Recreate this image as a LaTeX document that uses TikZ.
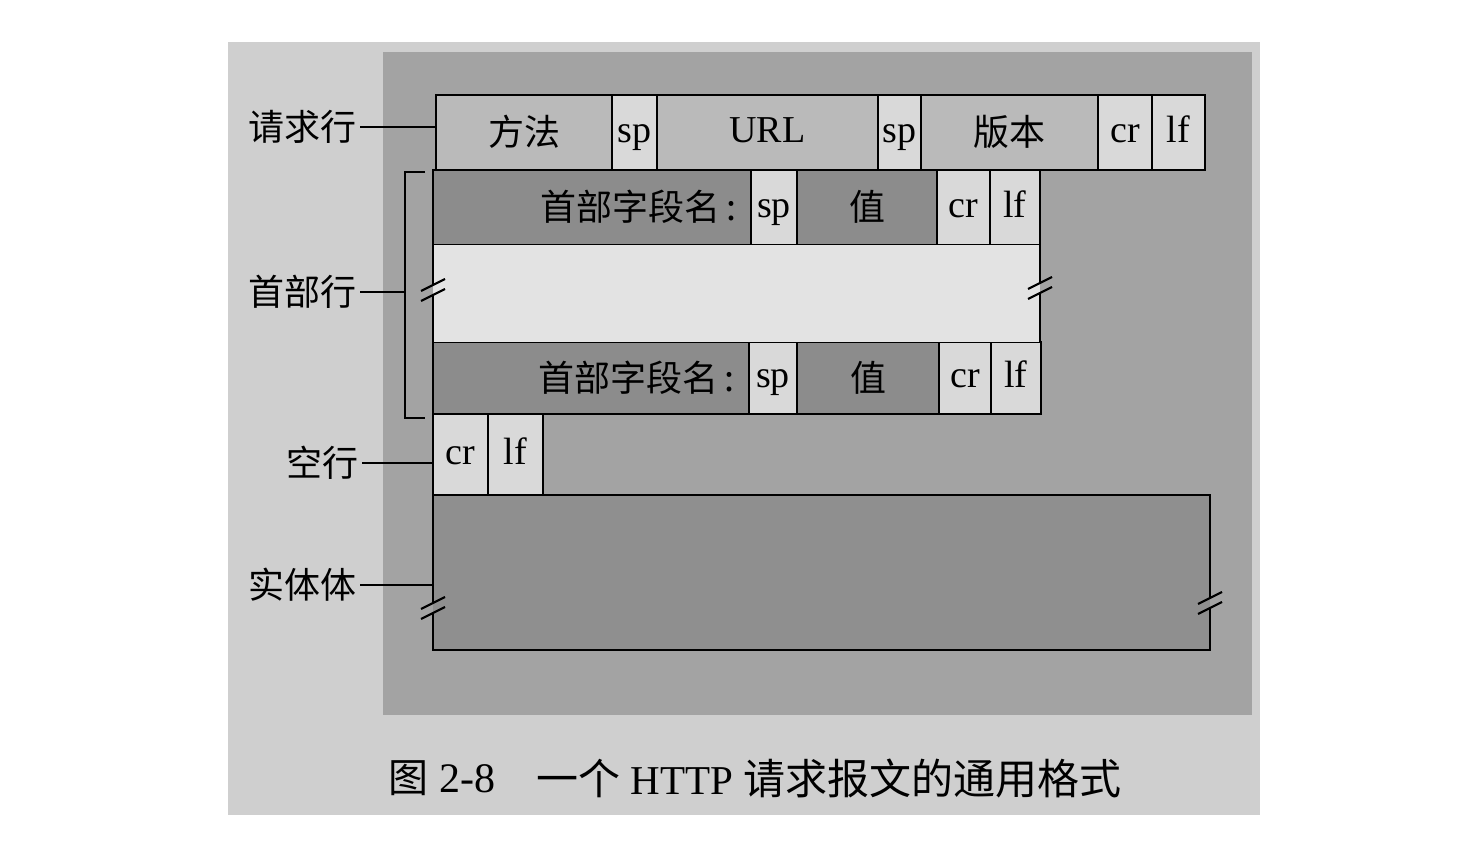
\documentclass[tikz,border=0pt]{standalone}
\usepackage{fontspec}
\setmainfont{Liberation Serif}
\newfontfamily\cjk{Noto Sans CJK SC}
\usetikzlibrary{positioning}

\definecolor{pagegray}{gray}{0.81}
\definecolor{panelgray}{gray}{0.64}
\definecolor{reqgray}{gray}{0.73}
\definecolor{palegray}{gray}{0.85}
\definecolor{hdrgray}{gray}{0.55}
\definecolor{bandgray}{gray}{0.89}
\definecolor{bodygray}{gray}{0.56}

\begin{document}
\begin{tikzpicture}[x=1pt, y=-1pt,
  cell/.style={draw, line width=2.8pt, inner sep=0pt, outer sep=0pt, minimum height=75pt,
    text height=27pt, text depth=8pt, font=\fontsize{38}{40}\selectfont},
  cn/.style={font=\cjk\fontsize{36}{40}\selectfont, text height=30pt, text depth=4pt},
  link/.style={line width=2.8pt},
  brk/.style={line width=2.2pt}]
  \useasboundingbox (0,0) rectangle (1470,862);
  \fill[white] (0,0) rectangle (1470,862);
  \fill[pagegray] (228,42) rectangle (1260,815);
  \fill[panelgray] (383,52) rectangle (1252,715);

  % request line
  \node[cell, cn, fill=reqgray, minimum width=176pt, anchor=north west] (method) at (436,95) {方法};
  \node[cell, fill=palegray, minimum width=45pt, right=0pt of method] (sp1) {sp};
  \node[cell, fill=reqgray, minimum width=221pt, right=0pt of sp1] (url) {URL};
  \node[cell, fill=palegray, minimum width=43pt, right=0pt of url] (sp2) {sp};
  \node[cell, cn, fill=reqgray, minimum width=177pt, right=0pt of sp2] (version) {版本};
  \node[cell, fill=palegray, minimum width=54pt, right=0pt of version] (cr1) {cr};
  \node[cell, fill=palegray, minimum width=53pt, right=0pt of cr1] (lf1) {lf};

  % header lines
  \node[cell, cn, fill=hdrgray, minimum width=318pt, text width=290pt, align=right, anchor=north west] (name1) at (433,170) {首部字段名\,:};
  \node[cell, fill=palegray, minimum width=46pt, right=0pt of name1] (sp3) {sp};
  \node[cell, cn, fill=hdrgray, minimum width=140pt, right=0pt of sp3] (value1) {值};
  \node[cell, fill=palegray, minimum width=53pt, right=0pt of value1] (cr2) {cr};
  \node[cell, fill=palegray, minimum width=50pt, right=0pt of cr2] (lf2) {lf};

  \node[cell, cn, fill=hdrgray, minimum height=72pt, minimum width=316pt, text width=288pt, align=right, anchor=north west] (name2) at (433,342) {首部字段名\,:};
  \node[cell, fill=palegray, minimum height=72pt, minimum width=48pt, right=0pt of name2] (sp4) {sp};
  \node[cell, cn, fill=hdrgray, minimum height=72pt, minimum width=142pt, right=0pt of sp4] (value2) {值};
  \node[cell, fill=palegray, minimum height=72pt, minimum width=52pt, right=0pt of value2] (cr3) {cr};
  \node[cell, fill=palegray, minimum height=72pt, minimum width=50pt, right=0pt of cr3] (lf3) {lf};

  \fill[bandgray] (name1.south west) rectangle (name2.north -| lf2.east);
  \draw[link] (name1.south west) -- (433,285);
  \draw[link] (433,296) -- (name2.north west);
  \draw[link] (lf2.south east) -- (1040,283);
  \draw[link] (1040,294) -- (name2.north -| lf2.east);

  % blank line
  \node[cell, fill=palegray, minimum height=82pt, minimum width=55pt, anchor=north west] (cr4) at (name2.south west) {cr};
  \node[cell, fill=palegray, minimum height=82pt, minimum width=55pt, right=0pt of cr4] (lf4) {lf};

  % entity body
  \node[fill=bodygray, inner sep=0pt, outer sep=0pt, minimum width=777pt, minimum height=155pt, anchor=north west] (body) at (433,495) {};
  \draw[link] (body.north west) -- (body.north east) -- (1210,598);
  \draw[link] (1210,609) -- (body.south east) -- (body.south west) -- (433,614);
  \draw[link] (433,603) -- (body.north west);

  \foreach \x/\y in {433/290, 1040/288, 433/608, 1210/603} {
    \draw[brk] (\x-12,\y+1) -- (\x+12,\y-11);
    \draw[brk] (\x-12,\y+11) -- (\x+12,\y-1);
  }

  % labels
  \node[cn, anchor=east] (reqlabel) at (360,127) {请求行};
  \draw[link] (reqlabel.east) -- (reqlabel.east -| method.west);

  \coordinate (hdtop) at (405,172);
  \coordinate (hdbot) at (405,418);
  \draw[link] ([xshift=20pt]hdtop) -- (hdtop) -- (hdbot) -- ([xshift=20pt]hdbot);
  \node[cn, anchor=east] (hdlabel) at (360,292) {首部行};
  \draw[link] (hdlabel.east) -- (hdlabel.east -| hdtop);

  \node[cn, anchor=east] (blanklabel) at (362,463) {空行};
  \draw[link] (blanklabel.east) -- (blanklabel.east -| cr4.west);

  \node[cn, anchor=east] (bodylabel) at (360,585) {实体体};
  \draw[link] (bodylabel.east) -- (bodylabel.east -| body.west);

  % caption
  \node[font=\fontsize{42}{44}\selectfont] (fignum) at (442,778) {{\cjk\fontsize{40}{44}\selectfont 图} 2-8};
  \node[anchor=west, font=\fontsize{41}{44}\selectfont] (figtitle) at (533,778) {{\cjk\fontsize{42}{44}\selectfont 一个} HTTP {\cjk\fontsize{42}{44}\selectfont 请求报文的通用格式}};
\end{tikzpicture}
\end{document}
